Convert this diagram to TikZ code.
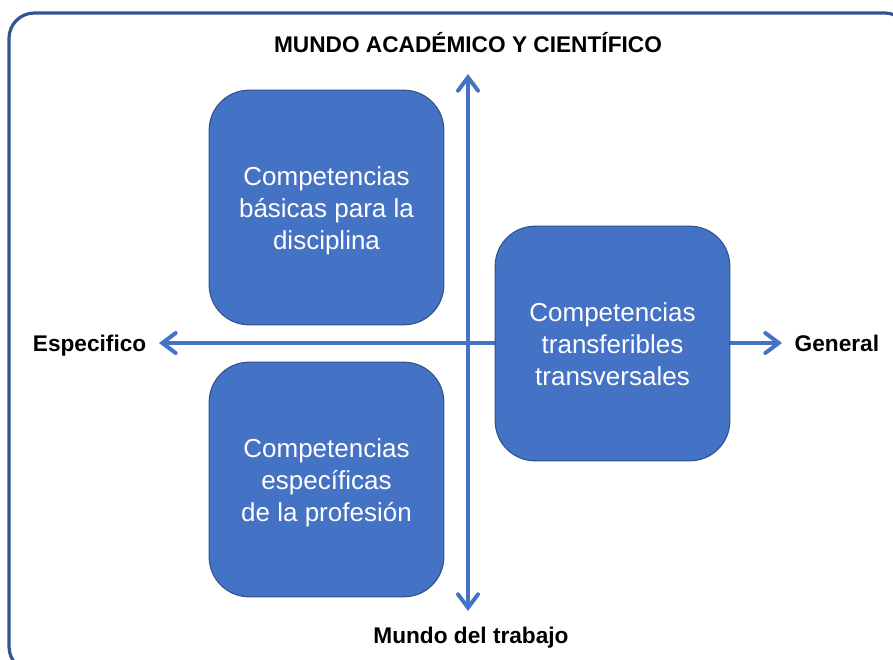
\documentclass[tikz,border=0pt]{standalone}
\usepackage{fontspec}
\setmainfont{Liberation Sans}
\usepackage{tikz}
\usetikzlibrary{arrows.meta,positioning}
\definecolor{azul}{HTML}{4472C4}
\definecolor{azulborde}{HTML}{2F528F}
\definecolor{marco}{HTML}{2F5597}

\begin{document}
\begin{tikzpicture}[x=0.75pt, y=-0.75pt,
    caja/.style={draw=azulborde, line width=0.8pt, fill=azul, rounded corners=30pt,
      minimum width=176pt, minimum height=176pt, text=white, align=center,
      font=\fontsize{19.5}{24}\selectfont, text height=63pt, text depth=0pt},
    eje/.style={azul, line width=3pt, {Straight Barb[length=10pt, width=15pt, line cap=round]}-{Straight Barb[length=10pt, width=15pt, line cap=round]}},
    etiqueta/.style={font=\bfseries\fontsize{17}{20}\selectfont, text height=14pt, text depth=2pt}]
  \useasboundingbox (0,0) rectangle (893,660);
  \clip (0,0) rectangle (893,660);
  % marco
  \draw[marco, line width=2.4pt, rounded corners=19pt] (9,13) rectangle (910,672);
  % ejes
  \coordinate (izq) at (159,343);
  \coordinate (der) at (782,343);
  \coordinate (arriba) at (468,74);
  \coordinate (abajo) at (468,611);
  \draw[eje] (izq) -- (der);
  \draw[eje] (abajo) -- (arriba);
  \node[etiqueta] (academico) at (468,45) {MUNDO ACADÉMICO Y CIENTÍFICO};
  \node[etiqueta] (trabajo) at (471,635) {Mundo del trabajo};
  \node[etiqueta, left=6pt of izq] (especifico) {Especifico};
  \node[etiqueta, right=6pt of der] (general) {General};
  % cuadrantes
  \node[caja] (basicas) at (326.5,207.5) {Competencias\\básicas para la\\disciplina};
  \node[caja] (profesion) at (326.5,479.5) {Competencias\\específicas\\de la profesión};
  \node[caja] (transversales) at (612.5,343.5) {Competencias\\transferibles\\transversales};
\end{tikzpicture}
\end{document}
